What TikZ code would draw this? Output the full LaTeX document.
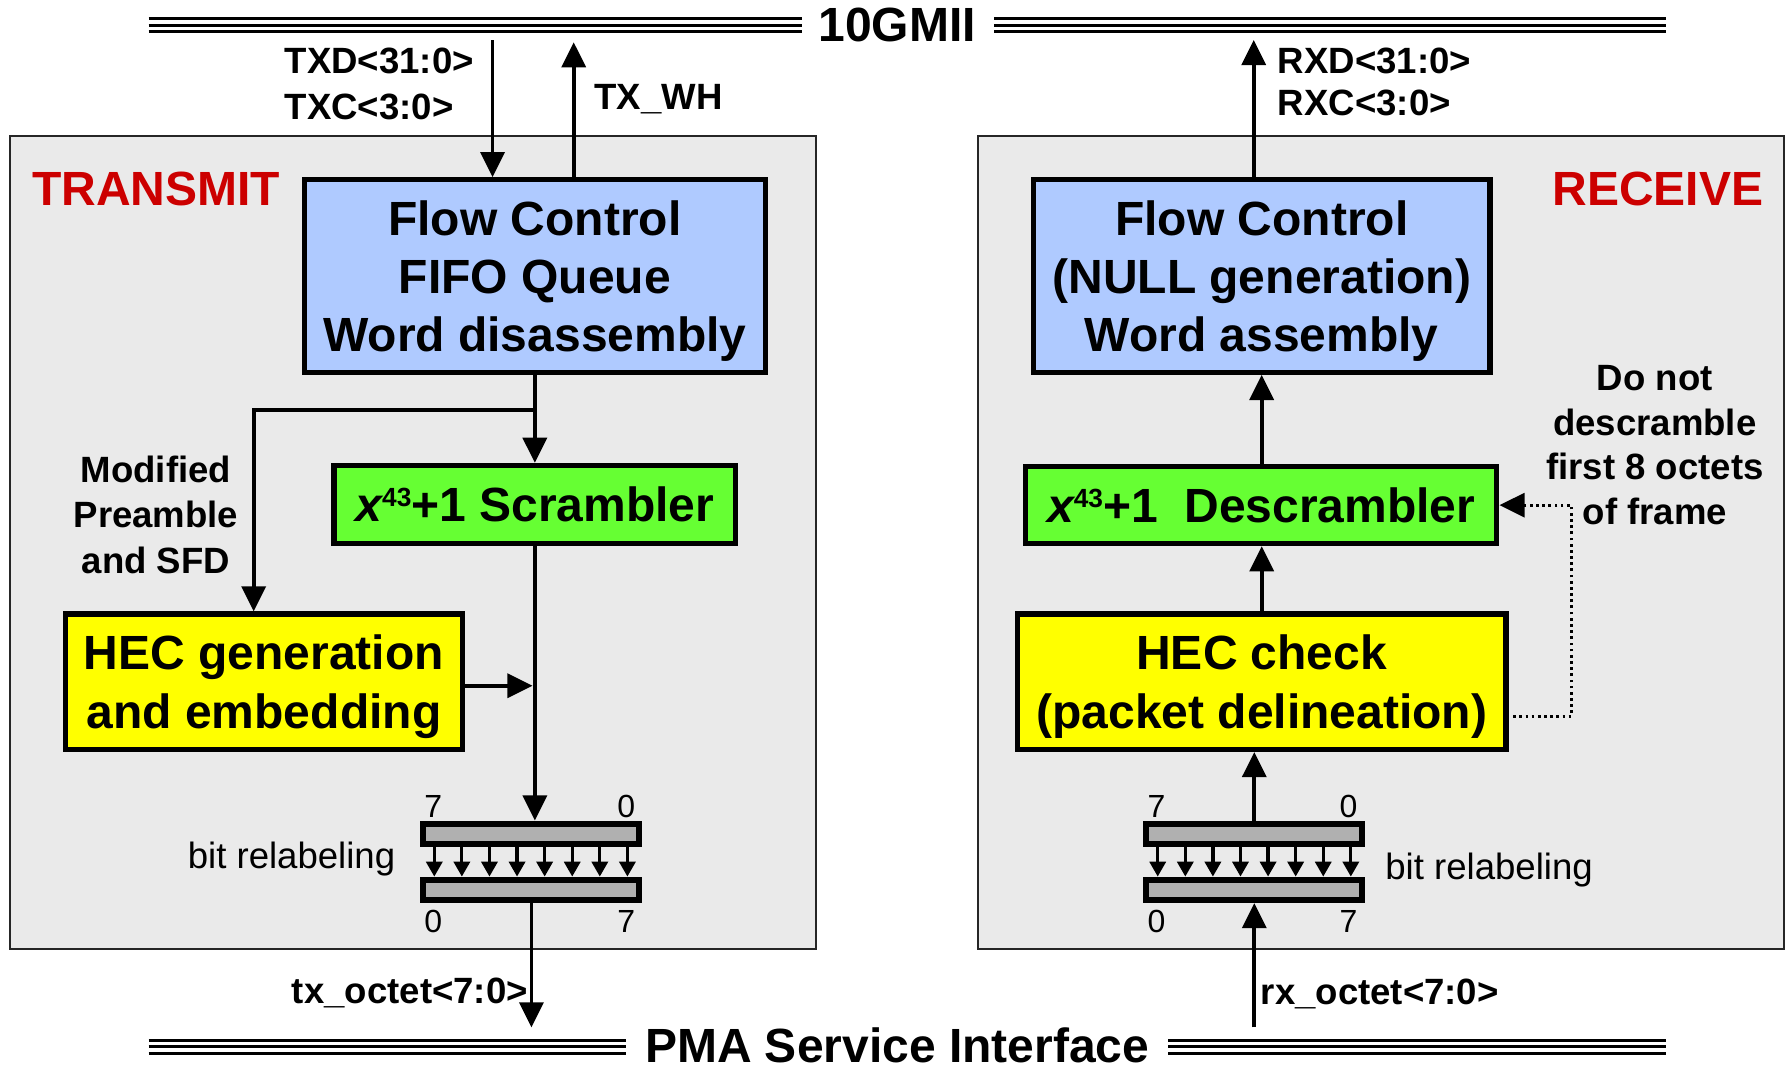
\documentclass[tikz,border=0pt]{standalone}
\usepackage{fontspec}
\setmainfont{Liberation Sans}
\usetikzlibrary{arrows.meta,calc}
\definecolor{panelgray}{HTML}{EAEAEA}
\definecolor{fifoblue}{HTML}{AFCAFF}
\definecolor{scrgreen}{HTML}{66FF33}
\definecolor{hecyellow}{HTML}{FFFF00}
\definecolor{titlered}{HTML}{CC0000}
\definecolor{bargray}{HTML}{B0B0B0}
\newcommand{\polyx}{{\itshape x}\raisebox{13.5pt}{\fontsize{23}{23}\selectfont 43}}
\begin{document}
\begin{tikzpicture}[x=1pt,y=-1pt,
  panel/.style={fill=panelgray,draw=black!85,line width=1.8pt},
  blockbox/.style={draw=black,line width=4.5pt,align=center,inner sep=0pt,
    text depth=0pt,font=\bfseries\fontsize{42}{51}\selectfont},
  fifo/.style={blockbox,fill=fifoblue},
  scr/.style={blockbox,fill=scrgreen},
  hec/.style={blockbox,fill=hecyellow},
  relbar/.style={draw=black,fill=bargray,line width=5.2pt,minimum width=189pt,
    minimum height=18pt,inner sep=0pt},
  conn/.style={line width=3.2pt},
  arr/.style={conn,-{Triangle[length=22pt,width=21pt]}},
  smallarr/.style={line width=2.8pt,-{Triangle[length=13pt,width=14pt]}},
  dotconn/.style={line width=2.6pt,dash pattern=on 2.4pt off 3pt,
    -{Triangle[length=22pt,width=21pt]}},
  busline/.style={line width=2.6pt},
  bigtitle/.style={font=\bfseries\fontsize{42}{50}\selectfont,inner sep=0pt},
  lbl/.style={font=\bfseries\fontsize{32}{40}\selectfont,inner sep=0pt},
  bitlbl/.style={font=\fontsize{32}{40}\selectfont,inner sep=0pt},
  digit/.style={font=\fontsize{28}{28}\selectfont,inner sep=0pt},
]
\useasboundingbox (0,0) rectangle (1568,935);

% transmit and receive panels
\draw[panel] (9,119) rectangle (714,830);
\draw[panel] (856,119) rectangle (1561,830);

% interface buses
\foreach \y in {16.5,22,27.5} {
  \draw[busline] (130,\y) -- (702,\y);
  \draw[busline] (870,\y) -- (1458,\y);
}
\foreach \y in {910.5,916,921.5} {
  \draw[busline] (130,\y) -- (548,\y);
  \draw[busline] (1022,\y) -- (1458,\y);
}
\node[bigtitle] (gmii) at (785,22) {10GMII};
\node[bigtitle] (pma) at (785,915) {PMA Service Interface};

% ---------------- transmit side ----------------
\node[bigtitle,text=titlered,anchor=west] (txtitle) at (28,165) {TRANSMIT};
\node[fifo,minimum width=403.5pt,minimum height=168.5pt] (txfifo) at (468,241.5)
  {Flow Control\\FIFO Queue\\Word disassembly};
\node[scr,minimum width=351.5pt,minimum height=68.5pt] (txscr) at (468,441.5)
  {\polyx+1 Scrambler};
\node[hec,minimum width=347.5pt,minimum height=118.5pt] (hecgen) at (231,596.5)
  {HEC generation\\and embedding};
\node[relbar] (txbarA) at (465,729.6) {};
\node[relbar] (txbarB) at (465,778.6) {};
\node[digit] (txdA7) at (379,706) {7};
\node[digit] (txdA0) at (548,706) {0};
\node[digit] (txdB0) at (379,806.5) {0};
\node[digit] (txdB7) at (548,806.5) {7};
\node[bitlbl,anchor=east] (txbitlbl) at (346,751.5) {bit relabeling};

\node[lbl,anchor=west,align=left,font=\bfseries\fontsize{32}{41}\selectfont]
  (txdlbl) at (249,73.5) {TXD<31:0>\\TXC<3:0>};
\node[lbl,anchor=west] (txwhlbl) at (520,87) {TX\_WH};
\node[lbl,align=center,font=\bfseries\fontsize{32}{39.5}\selectfont]
  (modlbl) at (136.5,450.5) {Modified\\Preamble\\and SFD};
\node[lbl,anchor=east] (txoctlbl) at (462,869) {tx\_octet<7:0>};

\coordinate (txdin) at (431,35);
\coordinate (txwh) at (502,37);
\coordinate (brsplit) at (468,358.5);
\coordinate (brcorner) at (222,358.5);
\coordinate (txjoin) at (466,600);
\coordinate (txout) at (465,899);

\draw[arr] (txdin) -- (txdin |- txfifo.north);
\draw[arr] (txwh |- txfifo.north) -- (txwh);
\draw[arr] (txfifo.south) -- (txscr.north);
\draw[arr] (brsplit) -- (brcorner) -- (brcorner |- hecgen.north);
\draw[arr] (txscr.south) -- (txscr.south |- txbarA.north);
\draw[arr] (hecgen.east |- txjoin) -- (txjoin);
\draw[arr] (txbarB.south) -- (txout);
\foreach \i in {0,...,7}
  \draw[smallarr] ($(txbarA.south)+(-85+24.14*\i,0)$) -- ($(txbarB.north)+(-85+24.14*\i,0)$);

% ---------------- receive side ----------------
\node[bigtitle,text=titlered,anchor=east] (rxtitle) at (1543,165) {RECEIVE};
\node[fifo,minimum width=399.5pt,minimum height=168.5pt] (rxfifo) at (1104,241.5)
  {Flow Control\\(NULL generation)\\Word assembly};
\node[scr,minimum width=412.5pt,minimum height=67.5pt] (rxscr) at (1103.5,442)
  {\polyx+1~ Descrambler};
\node[hec,minimum width=427.5pt,minimum height=118.5pt] (rxhec) at (1104,596.5)
  {HEC check\\(packet delineation)};
\node[relbar] (rxbarA) at (1097.5,729.6) {};
\node[relbar] (rxbarB) at (1097.5,778.6) {};
\node[digit] (rxdA7) at (1012,706) {7};
\node[digit] (rxdA0) at (1180,706) {0};
\node[digit] (rxdB0) at (1012,806.5) {0};
\node[digit] (rxdB7) at (1180,806.5) {7};
\node[bitlbl,anchor=west] (rxbitlbl) at (1212,761.5) {bit relabeling};

\node[lbl,anchor=west,align=left,font=\bfseries\fontsize{32}{37}\selectfont]
  (rxdlbl) at (1118,71.5) {RXD<31:0>\\RXC<3:0>};
\node[lbl,align=center,font=\bfseries\fontsize{32}{39}\selectfont]
  (dnlbl) at (1448,389.5) {Do not\\descramble\\first 8 octets\\of frame};
\node[lbl,anchor=west] (rxoctlbl) at (1103,870) {rx\_octet<7:0>};

\coordinate (rxdout) at (1097,35);
\coordinate (rxin) at (1097.5,899);
\coordinate (dotcorner) at (1375,627);

\draw[arr] (rxdout |- rxfifo.north) -- (rxdout);
\draw[arr] (rxscr.north -| rxfifo.south) -- (rxfifo.south);
\draw[arr] (rxhec.north) -- (rxhec.north |- rxscr.south);
\draw[arr] (rxbarA.north) -- (rxbarA.north |- rxhec.south);
\draw[arr] (rxin) -- (rxbarB.south);
\foreach \i in {0,...,7}
  \draw[smallarr] ($(rxbarA.south)+(-84.5+24.14*\i,0)$) -- ($(rxbarB.north)+(-84.5+24.14*\i,0)$);
\draw[dotconn] ($(rxhec.east |- dotcorner)+(4,0)$) -- (dotcorner) -- (dotcorner |- rxscr.east) -- (rxscr.east);
\end{tikzpicture}
\end{document}
